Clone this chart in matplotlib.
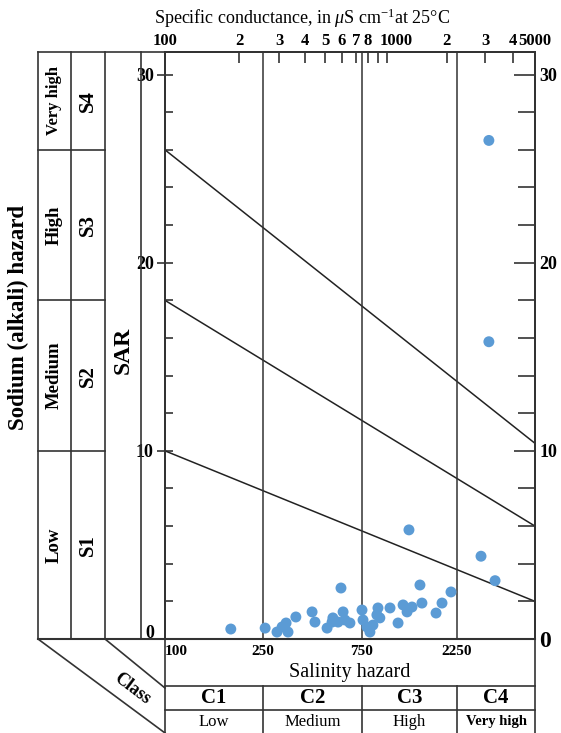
import numpy as np
import matplotlib
matplotlib.use('Agg')
import matplotlib.pyplot as plt
from matplotlib.lines import Line2D
from matplotlib.ticker import MultipleLocator, NullLocator
from matplotlib.transforms import blended_transform_factory as btf, ScaledTranslation

plt.rcParams['font.family'] = ['Liberation Serif', 'DejaVu Serif']
plt.rcParams['mathtext.fontset'] = 'custom'
plt.rcParams['mathtext.rm'] = 'Liberation Serif'
plt.rcParams['mathtext.it'] = 'Liberation Serif:italic'
plt.rcParams['mathtext.bf'] = 'Liberation Serif:bold'

# ---------------- data ----------------
ec = [185, 256, 292, 309, 323, 330, 360, 431, 445, 509, 538, 575, 594, 608,
      621, 656, 543, 750, 759, 794, 822, 851, 891, 902, 922, 1037, 1138, 1206,
      1263, 1337, 1466, 1500, 1766, 1892, 2099, 1291, 2877, 3322, 3118, 3118]
sar = [0.53, 0.58, 0.37, 0.64, 0.85, 0.37, 1.17, 1.44, 0.9, 0.58, 0.9, 0.9, 2.71,
       1.44, 1.01, 0.85, 1.12, 1.54, 1.01, 0.64, 0.37, 0.74, 1.28, 1.65, 1.12,
       1.65, 0.85, 1.81, 1.44, 1.70, 2.87, 1.91, 1.38, 1.91, 2.50, 5.8, 4.4,
       3.1, 15.8, 26.5]

class_edges = [100, 250, 750, 2250, 5000]
class_codes = ['C1', 'C2', 'C3', 'C4']
class_words = ['Low', 'Medium', 'High', 'Very high']
sodium_codes = ['S1', 'S2', 'S3', 'S4']
sodium_words = ['Low', 'Medium', 'High', 'Very high']
hazard_sar_left = [10, 18, 26]      # at 100 uS/cm
hazard_sar_right = [2, 6, 10.4]     # at 5000 uS/cm
sar_ticks = [0, 10, 20, 30]
sar_tick_labels = ['0', '10', '20', '30']
bottom_tick_labels = ['100', '250', '750', '2250']
top_tick_values = [100, 200, 300, 400, 500, 600, 700, 800, 900, 1000, 2000, 3000, 4000, 5000]
top_tick_labels = ['100', '2', '3', '4', '5', '6', '7', '8', '', '1000', '2', '3', '4', '5000']

# ---------------- scale (piecewise log, as drawn in the chart) ----------------
LOGA = np.log10(np.array(class_edges, float))
POSA = np.array([0, 98, 197, 292, 370], float)
S0 = (POSA[1] - POSA[0]) / (LOGA[1] - LOGA[0])
S1 = (POSA[-1] - POSA[-2]) / (LOGA[-1] - LOGA[-2])


def fwd(x):
    x = np.asarray(x, float)
    lx = np.log10(np.clip(x, 1e-9, None))
    out = np.interp(lx, LOGA, POSA)
    out = np.where(lx < LOGA[0], POSA[0] + (lx - LOGA[0]) * S0, out)
    out = np.where(lx > LOGA[-1], POSA[-1] + (lx - LOGA[-1]) * S1, out)
    return out


def inv(p):
    p = np.asarray(p, float)
    lx = np.interp(p, POSA, LOGA)
    lx = np.where(p < POSA[0], LOGA[0] + (p - POSA[0]) / S0, lx)
    lx = np.where(p > POSA[-1], LOGA[-1] + (p - POSA[-1]) / S1, lx)
    return 10 ** lx


W, H = 561, 733
fig = plt.figure(figsize=(W / 100, H / 100), dpi=100)


def fx(x):
    return x / W


def fy(y):
    return 1 - y / H


def shift(artist, dx_px, dy_px):
    artist.set_transform(artist.get_transform() +
                         ScaledTranslation(dx_px / 100, dy_px / 100, fig.dpi_scale_trans))


L, R, T, B = 165, 535, 52, 639
ax = fig.add_axes([fx(L), fy(B), (R - L) / W, (B - T) / H])
ax.set_xscale('function', functions=(fwd, inv))
ax.set_xlim(class_edges[0], class_edges[-1])
ax.set_ylim(0, 31.2)

LC = '#333333'
for lo, hi in zip(hazard_sar_left, hazard_sar_right):
    ax.plot([class_edges[0], class_edges[-1]], [lo, hi], color='#222222', lw=1.1, zorder=2)
for e in class_edges[1:-1]:
    ax.axvline(e, color=LC, lw=1.1, zorder=2)

ax.scatter(ec, sar, s=62, color='#5B9BD5', edgecolors='none', zorder=5)

for sp in ax.spines.values():
    sp.set_color(LC)
    sp.set_linewidth(1.3)

# bottom tick labels
ax.set_xticks(class_edges[:-1])
ax.set_xticklabels(bottom_tick_labels)
ax.xaxis.set_minor_locator(NullLocator())
ax.tick_params(axis='x', length=0, pad=4, labelsize=11)
for i, t in enumerate(ax.get_xticklabels()):
    t.set_fontweight('bold')
    if i == 0:
        t.set_horizontalalignment('left')

# left y ticks
ax.set_yticks(sar_ticks)
ax.set_yticklabels(sar_tick_labels)
ax.yaxis.set_minor_locator(MultipleLocator(2))
ax.tick_params(axis='y', which='major', direction='inout', length=12, width=1.2,
               color=LC, labelsize=13, pad=2)
ax.tick_params(axis='y', which='minor', direction='in', length=6, width=1.2, color=LC)
for i, t in enumerate(ax.get_yticklabels()):
    t.set_fontweight('bold')
    if i == 0:
        shift(t, 0, 8)

# right y ticks
axr = ax.twinx()
axr.set_ylim(ax.get_ylim())
axr.set_yticks(sar_ticks)
axr.set_yticklabels(sar_tick_labels)
axr.yaxis.set_minor_locator(MultipleLocator(2))
axr.tick_params(axis='y', which='major', direction='in', length=15, width=1.2,
                color=LC, labelsize=13, pad=3)
axr.tick_params(axis='y', which='minor', direction='in', length=12, width=1.2, color=LC)
for i, t in enumerate(axr.get_yticklabels()):
    t.set_fontweight('bold')
    if i == 0:
        t.set_fontsize(17)
for sp in axr.spines.values():
    sp.set_color(LC)
    sp.set_linewidth(1.3)

# top ticks
axt = ax.twiny()
axt.set_xscale('function', functions=(fwd, inv))
axt.set_xlim(class_edges[0], class_edges[-1])
axt.set_xticks(top_tick_values)
axt.set_xticklabels(top_tick_labels)
axt.xaxis.set_minor_locator(NullLocator())
axt.tick_params(axis='x', direction='in', length=8, width=1.2, color=LC,
                labelsize=12, pad=2)
for lab, t in zip(top_tick_labels, axt.get_xticklabels()):
    t.set_fontweight('bold')
    if lab == '1000':
        shift(t, 9, 0)
for sp in axt.spines.values():
    sp.set_color(LC)
    sp.set_linewidth(1.3)


# ---------------- frame / table decoration ----------------
def fline(x0, y0, x1, y1, lw=1.2):
    fig.add_artist(Line2D([fx(x0), fx(x1)], [fy(y0), fy(y1)], transform=fig.transFigure,
                          color=LC, lw=lw))


fline(38, T, R, T)
fline(38, B, R, B, lw=1.5)
for xv in (38, 71, 105, 141):
    fline(xv, T, xv, B)
fline(38, B, 165, 733)
fline(105, B, 165, 688)
fline(165, B, 165, 733)
fline(R, B, R, 733)
fline(165, 686, R, 686)
fline(165, 710, R, 710)

tr_fy = btf(fig.transFigure, ax.transData)
for v in hazard_sar_left:
    fig.add_artist(Line2D([fx(38), fx(105)], [v, v], transform=tr_fy, color=LC, lw=1.2))

tr_xf = btf(ax.transData, fig.transFigure)
for e in class_edges[1:-1]:
    fig.add_artist(Line2D([e, e], [fy(686), fy(733)], transform=tr_xf, color=LC, lw=1.2))

# left labels
ytop = ax.get_ylim()[1]
bounds = [0] + hazard_sar_left + [ytop]
for i in range(4):
    ym = (bounds[i] + bounds[i + 1]) / 2
    fig.text(fx(88), ym, sodium_codes[i], transform=tr_fy, rotation=90, ha='center',
             va='center', fontsize=15, fontweight='bold')
    fig.text(fx(54.5), ym, sodium_words[i], transform=tr_fy, rotation=90, ha='center',
             va='center', fontsize=12 if i == 3 else 13.5, fontweight='bold')

fig.text(fx(18), fy(318), 'Sodium (alkali) hazard', rotation=90, ha='center', va='center',
         fontsize=16.5, fontweight='bold')
fig.text(fx(123), fy(350), 'SAR', rotation=90, ha='center', va='center',
         fontsize=17, fontweight='bold')
fig.text(fx(132), fy(689), 'Class', rotation=-37, ha='center', va='center',
         fontsize=13, fontweight='bold')

# bottom table labels
fig.text(fx(350), fy(673), 'Salinity hazard', ha='center', va='center', fontsize=14.5)
for i in range(4):
    xm = inv((fwd(class_edges[i]) + fwd(class_edges[i + 1])) / 2)
    fig.text(float(xm), fy(698), class_codes[i], transform=tr_xf, ha='center', va='center',
             fontsize=15, fontweight='bold')
    fig.text(float(xm), fy(722), class_words[i], transform=tr_xf, ha='center', va='center',
             fontsize=10.5 if i == 3 else 12, fontweight='bold' if i == 3 else 'normal')

fig.text(fx(302), fy(18), r'Specific conductance, in $\mu$S cm$^{-1}$at 25°C',
         ha='center', va='center', fontsize=13)

fig.savefig('out.png', dpi=100)
